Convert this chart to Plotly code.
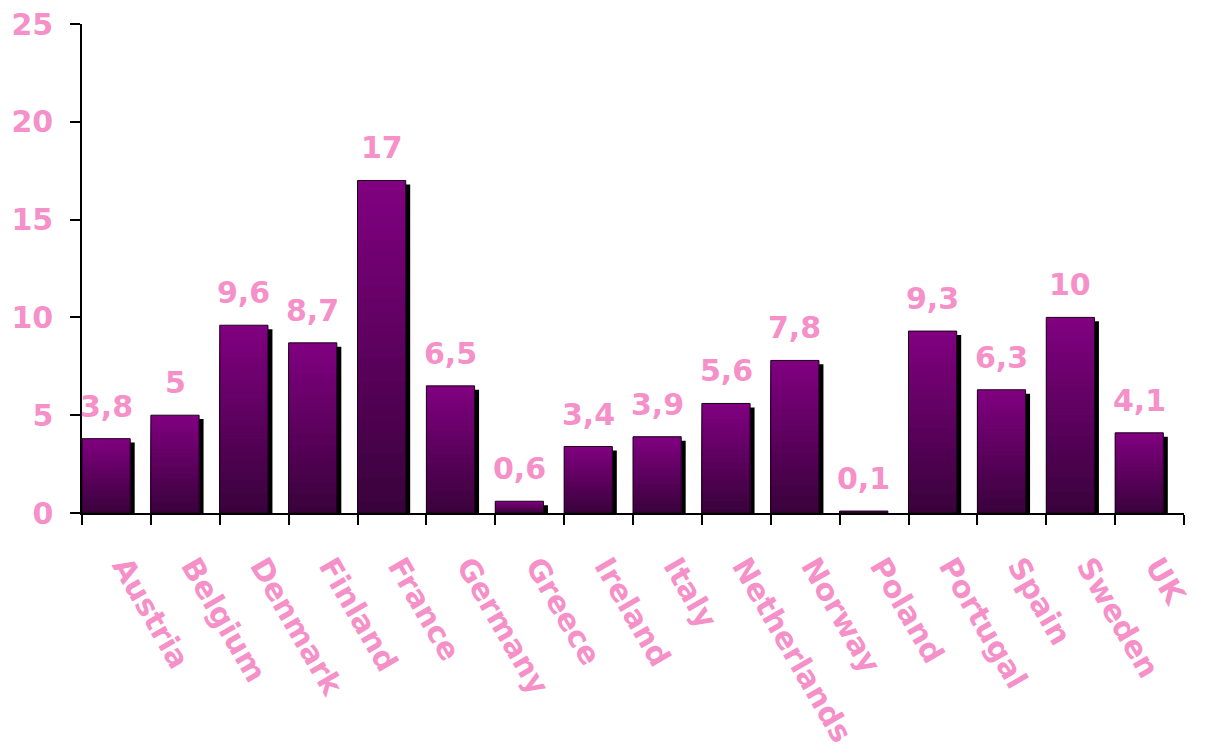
import plotly.graph_objects as go

categories = ["Austria", "Belgium", "Denmark", "Finland", "France", "Germany", "Greece", "Ireland",
              "Italy", "Netherlands", "Norway", "Poland", "Portugal", "Spain", "Sweden", "UK"]
values = [3.8, 5, 9.6, 8.7, 17, 6.5, 0.6, 3.4, 3.9, 5.6, 7.8, 0.1, 9.3, 6.3, 10, 4.1]
value_labels = ["3,8", "5", "9,6", "8,7", "17", "6,5", "0,6", "3,4", "3,9", "5,6", "7,8", "0,1",
                "9,3", "6,3", "10", "4,1"]
y_ticks = [0, 5, 10, 15, 20, 25]

PINK = "#F590C8"
FONT = "DejaVu Sans"
TOP = (128, 0, 128)
BOTTOM = (58, 2, 60)
N_STEPS = 28
BAR_W = 0.7
BAR_OFF = -0.5

fig = go.Figure()

# shadow
shadow_h = [max(v - 0.2, 0) for v in values]
fig.add_trace(go.Bar(x=categories, y=shadow_h, width=BAR_W, offset=BAR_OFF + 0.065,
                     marker=dict(color="black", line=dict(width=0)), hoverinfo="skip"))

# vertical gradient built from overlapping bars
for k in range(N_STEPS):
    frac = (N_STEPS - k) / N_STEPS
    t = k / (N_STEPS - 1)
    col = tuple(round(TOP[i] + (BOTTOM[i] - TOP[i]) * t) for i in range(3))
    fig.add_trace(go.Bar(x=categories, y=[v * frac for v in values], width=BAR_W, offset=BAR_OFF,
                         marker=dict(color="rgb(%d,%d,%d)" % col, line=dict(width=0)),
                         hoverinfo="skip"))

# outline
fig.add_trace(go.Bar(x=categories, y=values, width=BAR_W, offset=BAR_OFF,
                     marker=dict(color="rgba(0,0,0,0)", line=dict(color="#1a001a", width=1)),
                     hovertemplate="%{x}: %{y}<extra></extra>"))

for c, v, lab in zip(categories, values, value_labels):
    fig.add_annotation(x=c, y=v, text=lab, showarrow=False, yanchor="bottom", xanchor="center",
                       xshift=-10.3, yshift=13,
                       font=dict(family=FONT, size=30, color=PINK, weight="bold"))

fig.update_layout(
    barmode="overlay",
    showlegend=False,
    width=1207, height=753,
    margin=dict(l=82, r=23, t=24, b=240),
    paper_bgcolor="white", plot_bgcolor="white",
    font=dict(family=FONT, color=PINK, weight="bold"),
)
fig.update_xaxes(type="category", range=[-0.5, 15.5], showline=True, linecolor="black", linewidth=1.5,
                 ticks="outside", tickson="boundaries", ticklen=10, tickcolor="black", tickwidth=1.5,
                 tickangle=60, showgrid=False, zeroline=False, automargin=False,
                 ticklabelstandoff=22, ticklabelshift=8,
                 tickfont=dict(family=FONT, size=30, color=PINK, weight="bold"))
fig.update_yaxes(range=[0, 25], tickvals=y_ticks, showline=True, linecolor="black", linewidth=1.5,
                 ticks="outside", ticklen=10, tickcolor="black", tickwidth=1.5, showgrid=False,
                 zeroline=False, ticklabelstandoff=11, automargin=False,
                 tickfont=dict(family=FONT, size=30, color=PINK, weight="bold"))

fig.write_html("out.html")
